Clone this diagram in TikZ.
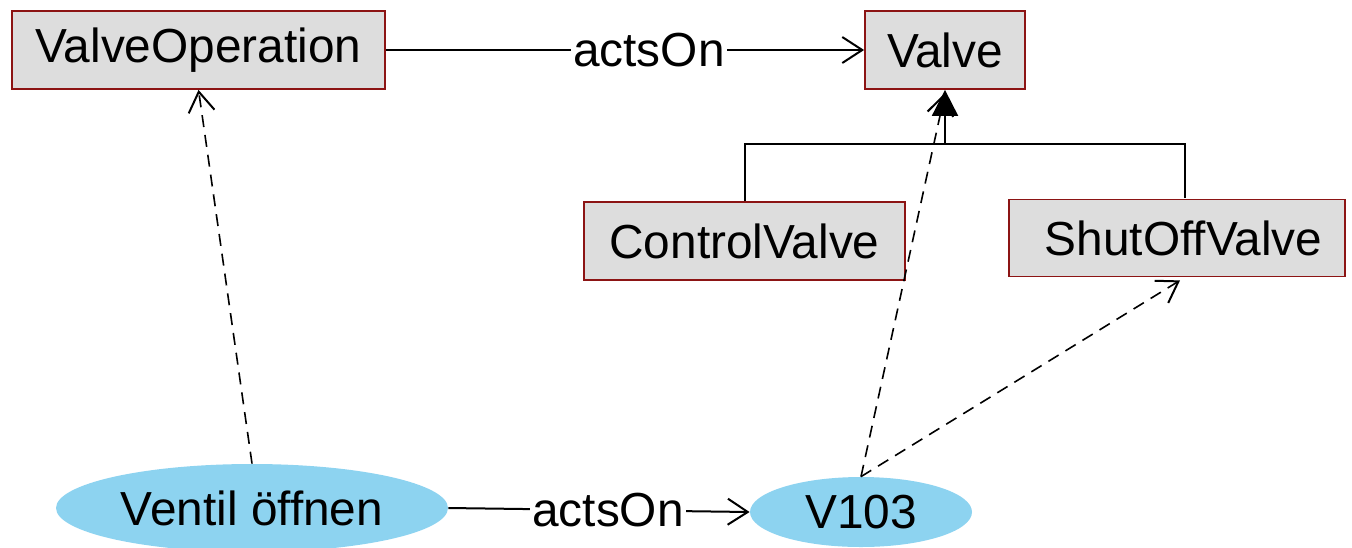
\documentclass[tikz,border=0pt]{standalone}
\usepackage{fontspec}
\setmainfont{Liberation Sans}
\usetikzlibrary{shapes.geometric,arrows.meta}
\definecolor{boxfill}{RGB}{221,221,221}
\definecolor{boxline}{RGB}{140,20,20}
\definecolor{ellfill}{RGB}{141,211,240}
\begin{document}
\begin{tikzpicture}[x=0.5pt,y=-0.5pt,
  every node/.style={font=\fontsize{23.9}{28}\selectfont, inner sep=0pt},
  cls/.style={rectangle, draw=boxline, fill=boxfill, line width=0.9pt, minimum height=39pt},
  inst/.style={ellipse, fill=ellfill, draw=none},
  conn/.style={line width=1pt},
  openarr/.style={-{Straight Barb[length=10pt,width=13pt,line width=1pt]}},
  dashconn/.style={line width=0.8pt, dash pattern=on 6pt off 4pt},
  lbl/.style={fill=white, inner sep=1pt}
]
\useasboundingbox (0,0) rectangle (1352,547);
\node[cls, minimum width=186.5pt] (vo) at (198.5,50) {ValveOperation};
\node[cls, minimum width=80pt] (valve) at (945,50) {Valve};
\node[cls, minimum width=160.5pt] (cv) at (744.5,241) {ControlValve};
\node[cls, minimum width=168pt, minimum height=38.5pt] (so) at (1177,238) {\hspace*{6.5pt}ShutOffValve};
\node[inst, minimum width=196pt, minimum height=44pt] (vent) at (252,508) {Ventil öffnen};
\node[inst, minimum width=111pt, minimum height=35pt] (v103) at (861,512) {V103};
\coordinate (j) at (945,144);
\coordinate (sotop) at (1185,198);
% acts on (top)
\draw[conn, openarr] (vo.east) -- node[lbl, pos=0.55] {actsOn} (valve.west);
% inheritance
\draw[conn] (cv.north) |- (j);
\draw[conn] (sotop) |- (j);
\draw[conn, -{Triangle[length=13pt,width=13pt]}] (j) -- (valve.south);
% instance-of
\draw[dashconn, openarr] (vent.north) -- (vo.south);
\draw[dashconn, openarr] (v103.north) -- ([yshift=-1.5pt]valve.south);
\draw[dashconn, openarr] (v103.north) -- ([xshift=1.5pt,yshift=-1.5pt]so.south);
% acts on (bottom)
\draw[conn, openarr] (vent.east) -- node[lbl, pos=0.53] {actsOn} (v103.west);
\end{tikzpicture}
\end{document}
